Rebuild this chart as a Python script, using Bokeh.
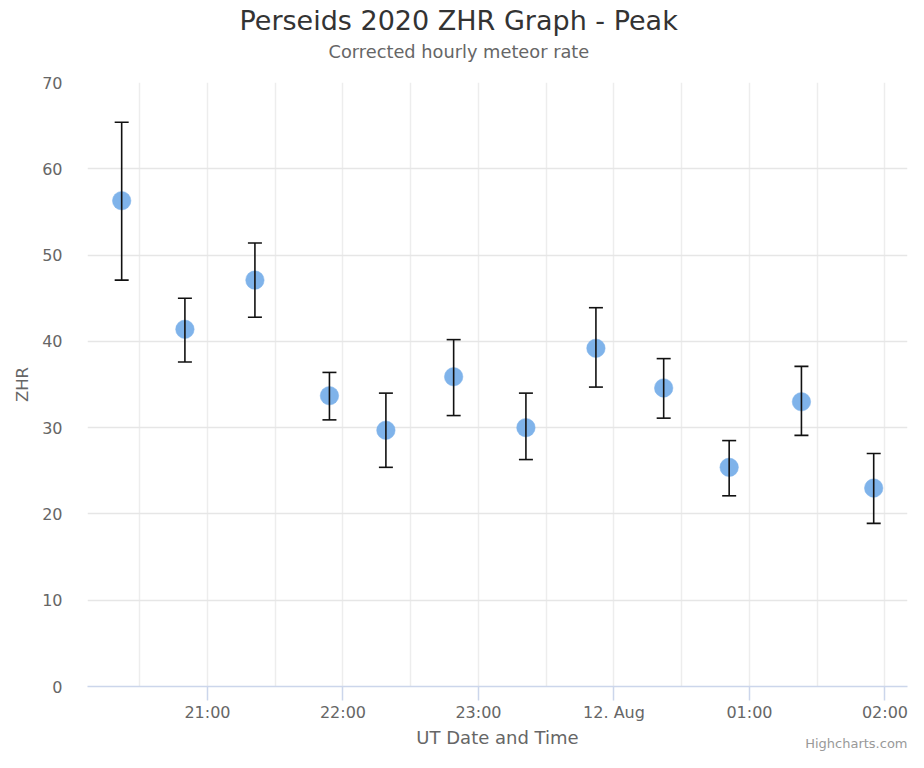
import pandas as pd
from bokeh.plotting import figure
from bokeh.models import (ColumnDataSource, Range1d, FixedTicker, SingleIntervalTicker,
                          Whisker, TeeHead, Title)
from bokeh.embed import file_html
from bokeh.resources import INLINE

# ---- data ----
times = ["2020-08-11 20:22", "2020-08-11 20:50", "2020-08-11 21:21", "2020-08-11 21:54",
         "2020-08-11 22:19", "2020-08-11 22:49", "2020-08-11 23:21", "2020-08-11 23:52",
         "2020-08-12 00:22", "2020-08-12 00:51", "2020-08-12 01:23", "2020-08-12 01:55"]
zhr = [56.3, 41.4, 47.1, 33.7, 29.7, 35.9, 30.0, 39.2, 34.6, 25.4, 33.0, 23.0]
zhr_low = [47.1, 37.6, 42.8, 30.9, 25.4, 31.4, 26.3, 34.7, 31.1, 22.1, 29.1, 18.9]
zhr_high = [65.4, 45.0, 51.4, 36.4, 34.0, 40.2, 34.0, 43.9, 38.0, 28.5, 37.1, 27.0]

tick_times = ["2020-08-11 21:00", "2020-08-11 22:00", "2020-08-11 23:00",
              "2020-08-12 00:00", "2020-08-12 01:00", "2020-08-12 02:00"]
tick_labels = ["21:00", "22:00", "23:00", "12. Aug", "01:00", "02:00"]
grid_times = ["2020-08-11 20:30", "2020-08-11 21:00", "2020-08-11 21:30", "2020-08-11 22:00",
              "2020-08-11 22:30", "2020-08-11 23:00", "2020-08-11 23:30", "2020-08-12 00:00",
              "2020-08-12 00:30", "2020-08-12 01:00", "2020-08-12 01:30", "2020-08-12 02:00"]
x_start, x_end = "2020-08-11 20:06:52", "2020-08-12 02:09:58"

title_text = "Perseids 2020 ZHR Graph - Peak"
subtitle_text = "Corrected hourly meteor rate"
x_title = "UT Date and Time"
y_title = "ZHR"
credits_text = "Highcharts.com"


def to_ms(ts):
    return [int(pd.Timestamp(t).value // 10**6) for t in ts]


FONT = "DejaVu Sans"

xs = to_ms(times)
ticks = to_ms(tick_times)
src = ColumnDataSource(dict(x=xs, y=zhr, low=zhr_low, high=zhr_high))

p = figure(width=908, height=752, output_backend="svg", toolbar_location=None,
           x_range=Range1d(to_ms([x_start])[0], to_ms([x_end])[0]),
           y_range=Range1d(0, 70),
           min_border_left=87, min_border_right=1, min_border_top=82, min_border_bottom=66)
p.outline_line_color = None
p.background_fill_color = "white"
p.border_fill_color = "white"

# x axis
xa = p.xaxis[0]
xa.ticker = FixedTicker(ticks=ticks, minor_ticks=[])
xa.major_label_overrides = {t: l for t, l in zip(ticks, tick_labels)}
xa.axis_line_color = "#ccd6eb"
xa.axis_line_width = 1.5
xa.major_tick_line_color = "#ccd6eb"
xa.major_tick_line_width = 1.5
xa.major_tick_out = 14
xa.major_tick_in = 0
xa.minor_tick_line_color = None
xa.major_label_standoff = 2
xa.major_label_text_font = FONT
xa.major_label_text_font_size = "16px"
xa.major_label_text_color = "#666666"
xa.axis_label = x_title
xa.axis_label_text_font = FONT
xa.axis_label_text_font_size = "18px"
xa.axis_label_text_font_style = "normal"
xa.axis_label_text_color = "#666666"
xa.axis_label_standoff = 2

# y axis
ya = p.yaxis[0]
ya.ticker = SingleIntervalTicker(interval=10, num_minor_ticks=0)
ya.axis_line_color = None
ya.major_tick_line_color = None
ya.minor_tick_line_color = None
ya.major_tick_out = 0
ya.major_tick_in = 0
ya.major_label_standoff = 25
ya.major_label_text_font = FONT
ya.major_label_text_font_size = "16px"
ya.major_label_text_color = "#666666"
ya.axis_label = y_title
ya.axis_label_text_font = FONT
ya.axis_label_text_font_size = "16.5px"
ya.axis_label_text_font_style = "normal"
ya.axis_label_text_color = "#666666"
ya.axis_label_standoff = 7

# grids
p.ygrid[0].ticker = SingleIntervalTicker(interval=10, num_minor_ticks=0)
p.ygrid[0].grid_line_color = "#e6e6e6"
p.ygrid[0].grid_line_width = 1.5
p.xgrid[0].ticker = FixedTicker(ticks=to_ms(grid_times), minor_ticks=[])
p.xgrid[0].grid_line_color = "#ededed"
p.xgrid[0].grid_line_width = 1.5

# points
p.scatter("x", "y", source=src, size=18.5, fill_color="#7fb3ea", line_color="#7fb3ea",
          line_width=0.5)

# error bars
head_kw = dict(size=14, line_color="#111111", line_width=1.6)
w = Whisker(base="x", lower="low", upper="high", source=src, dimension="height",
            line_color="#111111", line_width=1.6, level="overlay",
            lower_head=TeeHead(**head_kw), upper_head=TeeHead(**head_kw))
p.add_layout(w)

# above panel, stacked outward from the plot frame: spacer, subtitle, title
p.add_layout(Title(text=" ", text_font=FONT, text_font_size="10px", standoff=8), "above")
p.add_layout(Title(text=subtitle_text, align="left", offset=241, text_font=FONT,
                   text_font_size="17.8px", text_font_style="normal",
                   text_color="#666666", standoff=-2, vertical_align="middle"), "above")
p.add_layout(Title(text=title_text, align="left", offset=152, text_font=FONT,
                   text_font_size="27px", text_font_style="normal",
                   text_color="#333333", standoff=6, vertical_align="top"), "above")
# credits below the axis title, pulled up into the axis band
p.add_layout(Title(text=credits_text, align="right", offset=0, text_font=FONT,
                   text_font_size="13px", text_font_style="normal",
                   text_color="#999999", standoff=-30, vertical_align="top"), "below")

open("out.html", "w").write(file_html(p, INLINE))
